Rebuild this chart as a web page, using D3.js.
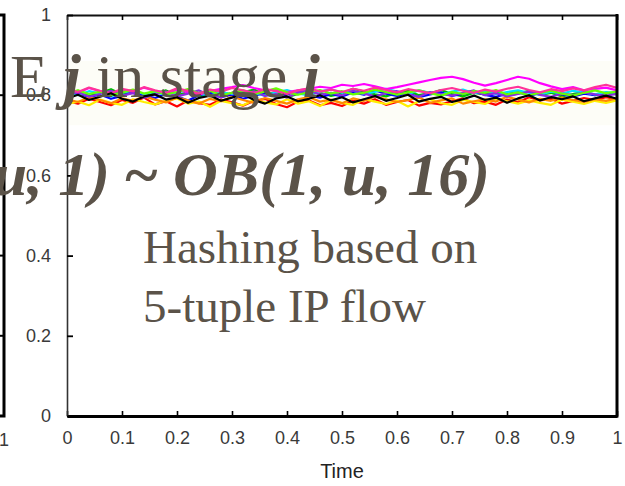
<!DOCTYPE html>
<html>
<head>
<meta charset="utf-8">
<script src="https://cdn.jsdelivr.net/npm/d3@7"></script>
<style>
  html, body { margin: 0; padding: 0; background: #fff; }
  svg { display: block; }
  .tick text { font-family: "Liberation Sans", Arial, sans-serif; fill: #3a3a3a; }
  .over { font-family: "Liberation Serif", "Times New Roman", serif; fill: #5b5349; }
</style>
</head>
<body>
<script>
'use strict';

// x positions of the samples (Time)
const times = [0, 0.02, 0.04, 0.06, 0.08, 0.1, 0.12, 0.14, 0.16, 0.18,
  0.2, 0.22, 0.24, 0.26, 0.28, 0.3, 0.32, 0.34, 0.36, 0.38,
  0.4, 0.42, 0.44, 0.46, 0.48, 0.5, 0.52, 0.54, 0.56, 0.58,
  0.6, 0.62, 0.64, 0.66, 0.68, 0.7, 0.72, 0.74, 0.76, 0.78,
  0.8, 0.82, 0.84, 0.86, 0.88, 0.9, 0.92, 0.94, 0.96, 0.98, 1];

const xTicks = [0, 0.1, 0.2, 0.3, 0.4, 0.5, 0.6, 0.7, 0.8, 0.9, 1];
const xTickLabels = ['0', '0.1', '0.2', '0.3', '0.4', '0.5', '0.6', '0.7', '0.8', '0.9', '1'];
const yTicks = [0, 0.2, 0.4, 0.6, 0.8, 1];
const yTickLabels = ['0', '0.2', '0.4', '0.6', '0.8', '1'];

const seriesColors = ['#ff0000', '#ffee00', '#00c000', '#0000ff', '#00e0ff', '#ff00ff',
  '#ff8800', '#8a2be2', '#66ff00', '#ff3399', '#000000'];

const red = [.786,.779,.791,.783,.775,.788,.781,.794,.777,.785,.772,.787,.780,.776,.789,.782,.774,.786,.791,.778,.770,.784,.787,.775,.781,.773,.786,.779,.790,.776,.783,.788,.774,.781,.777,.785,.792,.780,.784,.776,.789,.782,.795,.787,.791,.779,.786,.793,.788,.795,.790];
const yellow = [.778,.784,.775,.789,.781,.776,.790,.783,.777,.786,.792,.779,.784,.771,.786,.780,.775,.788,.782,.777,.790,.779,.785,.773,.788,.781,.776,.790,.784,.778,.786,.772,.785,.790,.780,.776,.788,.783,.778,.791,.785,.779,.787,.781,.776,.789,.784,.778,.786,.781,.787];
const green = [.803,.811,.798,.806,.815,.802,.809,.797,.805,.812,.800,.808,.796,.804,.810,.799,.807,.814,.801,.808,.795,.803,.811,.806,.798,.804,.816,.809,.802,.797,.806,.811,.800,.805,.813,.803,.797,.806,.802,.810,.799,.804,.811,.801,.806,.797,.803,.809,.800,.805,.802];
const blue = [.799,.806,.795,.802,.791,.798,.808,.800,.793,.803,.797,.787,.800,.806,.795,.801,.791,.799,.805,.796,.802,.810,.800,.794,.803,.797,.807,.801,.812,.804,.798,.805,.795,.802,.807,.798,.804,.809,.801,.796,.803,.808,.799,.805,.811,.802,.797,.804,.800,.806,.803];
const cyan = [.807,.800,.810,.804,.797,.806,.812,.803,.809,.800,.806,.813,.804,.799,.808,.803,.811,.805,.799,.807,.813,.804,.800,.809,.815,.806,.811,.803,.808,.816,.809,.804,.812,.806,.801,.809,.814,.805,.810,.803,.808,.812,.806,.801,.809,.804,.811,.807,.802,.808,.805];
const magenta = [.812,.806,.818,.810,.803,.814,.808,.819,.811,.805,.813,.807,.801,.810,.816,.820,.825,.818,.812,.814,.808,.812,.816,.821,.818,.826,.823,.828,.822,.815,.820,.826,.832,.838,.843,.846,.840,.831,.824,.830,.838,.846,.841,.830,.822,.815,.820,.812,.816,.819,.812];
const orange = [.790,.783,.795,.788,.780,.792,.786,.797,.789,.782,.794,.787,.779,.791,.785,.796,.788,.781,.793,.786,.779,.790,.795,.784,.789,.780,.792,.786,.797,.790,.783,.788,.794,.781,.787,.792,.779,.785,.790,.784,.796,.789,.782,.791,.786,.794,.788,.783,.790,.786,.792];
const purple = [.800,.808,.796,.803,.811,.799,.805,.794,.802,.809,.797,.804,.812,.800,.795,.806,.801,.810,.798,.803,.794,.807,.812,.801,.806,.799,.811,.804,.797,.805,.810,.802,.796,.808,.803,.799,.806,.812,.800,.805,.797,.803,.809,.801,.796,.804,.800,.807,.802,.798,.804];
const lime = [.806,.812,.803,.809,.800,.807,.814,.804,.810,.802,.808,.815,.805,.811,.800,.806,.812,.803,.809,.817,.807,.801,.808,.813,.804,.810,.802,.806,.814,.808,.801,.807,.812,.805,.799,.808,.803,.810,.806,.813,.802,.807,.800,.806,.811,.804,.799,.806,.812,.805,.809];
const pink = [.815,.808,.819,.811,.805,.816,.810,.820,.812,.806,.817,.811,.804,.814,.809,.818,.812,.806,.815,.810,.803,.812,.817,.809,.814,.808,.816,.811,.819,.813,.807,.815,.810,.805,.813,.818,.811,.806,.814,.809,.816,.821,.813,.807,.815,.810,.817,.812,.820,.826,.818];
const black = [.792,.801,.788,.796,.805,.791,.784,.797,.802,.789,.795,.781,.793,.799,.786,.794,.803,.788,.779,.792,.797,.785,.791,.800,.787,.795,.782,.790,.798,.786,.793,.801,.784,.791,.796,.783,.790,.799,.788,.794,.781,.792,.800,.787,.795,.790,.797,.785,.792,.799,.791];

const series = [red, yellow, green, blue, cyan, magenta, orange, purple, lime, pink, black];

const W = 625, H = 486;
const svg = d3.select('body').append('svg')
  .attr('width', W).attr('height', H)
  .attr('viewBox', `0 0 ${W} ${H}`);

const x = d3.scaleLinear().domain([0, 1]).range([67, 617]);
const y = d3.scaleLinear().domain([0, 1]).range([416, 15]);

// clip for the traces
svg.append('defs').append('clipPath')
  .attr('id', 'plotClip')
  .append('rect')
    .attr('x', x(0)).attr('y', y(1))
    .attr('width', x(1) - x(0)).attr('height', y(0) - y(1));

// faint halo behind the traces
svg.append('rect')
  .attr('x', x(0) + 2).attr('y', y(0.885))
  .attr('width', x(1) - x(0) - 4).attr('height', y(0.725) - y(0.885))
  .attr('fill', '#fdfdf7');

// traces
const line = d3.line()
  .x((d, i) => x(times[i]))
  .y(d => y(d));

svg.append('g')
  .attr('clip-path', 'url(#plotClip)')
  .selectAll('path')
  .data(series)
  .join('path')
    .attr('d', line)
    .attr('fill', 'none')
    .attr('stroke', (d, i) => seriesColors[i])
    .attr('stroke-width', 2.2)
    .attr('stroke-linejoin', 'round');

// bottom axis, ticks pointing inward
const xAxis = svg.append('g')
  .attr('transform', `translate(0, ${y(0)})`)
  .call(d3.axisBottom(x)
    .tickValues(xTicks)
    .tickFormat((d, i) => xTickLabels[i])
    .tickSizeInner(-5).tickSizeOuter(0).tickPadding(12));
xAxis.select('.domain').attr('stroke', '#000').attr('stroke-width', 3);
xAxis.selectAll('.tick line').attr('stroke-width', 1.6);
xAxis.selectAll('.tick text').attr('font-size', 18).attr('dy', '0.9em');

// top axis: ticks only
const topAxis = svg.append('g')
  .attr('transform', `translate(0, ${y(1)})`)
  .call(d3.axisTop(x)
    .tickValues(xTicks)
    .tickFormat('')
    .tickSizeInner(-5).tickSizeOuter(0));
topAxis.select('.domain').attr('stroke', '#111').attr('stroke-width', 2);
topAxis.selectAll('.tick line').attr('stroke-width', 1.6);

// left axis
const yAxis = svg.append('g')
  .attr('transform', `translate(${x(0)}, 0)`)
  .call(d3.axisLeft(y)
    .tickValues(yTicks)
    .tickFormat((d, i) => yTickLabels[i])
    .tickSizeInner(-6).tickSizeOuter(0).tickPadding(16));
yAxis.select('.domain').attr('stroke', '#333').attr('stroke-width', 1.6);
yAxis.selectAll('.tick line').attr('stroke-width', 1.8);
yAxis.selectAll('.tick text').attr('font-size', 18);

// right border
svg.append('line')
  .attr('x1', x(1)).attr('x2', x(1))
  .attr('y1', y(1) - 1).attr('y2', y(0) + 1.5)
  .attr('stroke', '#000').attr('stroke-width', 3);

// neighbouring chart, only its right edge is visible
const xPrev = d3.scaleLinear().domain([0, 1]).range([4 - 550, 4]);
svg.append('path')
  .attr('d', `M0,${y(1)}H${xPrev(1)}V${y(0)}H0`)
  .attr('fill', 'none').attr('stroke', '#000').attr('stroke-width', 3);
svg.append('g')
  .selectAll('line')
  .data(yTicks.slice(1, -1))
  .join('line')
    .attr('x1', xPrev(1)).attr('x2', xPrev(1) - 6)
    .attr('y1', d => y(d)).attr('y2', d => y(d))
    .attr('stroke', '#000').attr('stroke-width', 2);
svg.append('text')
  .attr('x', xPrev(1)).attr('y', y(0) + 30)
  .attr('text-anchor', 'middle')
  .style('font-family', '"Liberation Sans", Arial, sans-serif')
  .attr('font-size', 18).attr('fill', '#3a3a3a')
  .text('1');

// axis title
svg.append('text')
  .attr('x', x(0.5)).attr('y', 478)
  .attr('text-anchor', 'middle')
  .style('font-family', '"Liberation Sans", Arial, sans-serif')
  .attr('font-size', 20).attr('fill', '#222')
  .text('Time');

// slide text laid over the chart
const t1 = svg.append('text').attr('class', 'over')
  .attr('x', 10).attr('y', 97)
  .attr('font-size', 62);
t1.append('tspan').text('E ');
t1.append('tspan').attr('font-weight', 'bold').attr('font-style', 'italic').text('j');
t1.append('tspan').text(' in stage ');
t1.append('tspan').attr('font-weight', 'bold').attr('font-style', 'italic').text('i');

const t2 = svg.append('text').attr('class', 'over')
  .attr('x', 490).attr('y', 195)
  .attr('text-anchor', 'end')
  .attr('font-size', 62).attr('font-weight', 'bold').attr('font-style', 'italic');
t2.append('tspan').text('u, 1) ');
t2.append('tspan').attr('font-style', 'normal').text('~');
t2.append('tspan').text(' OB(1, u, 16)');

svg.append('text').attr('class', 'over')
  .attr('x', 143).attr('y', 263)
  .attr('font-size', 47)
  .text('Hashing based on');
svg.append('text').attr('class', 'over')
  .attr('x', 143).attr('y', 322)
  .attr('font-size', 47)
  .text('5-tuple IP flow');
</script>
</body>
</html>
